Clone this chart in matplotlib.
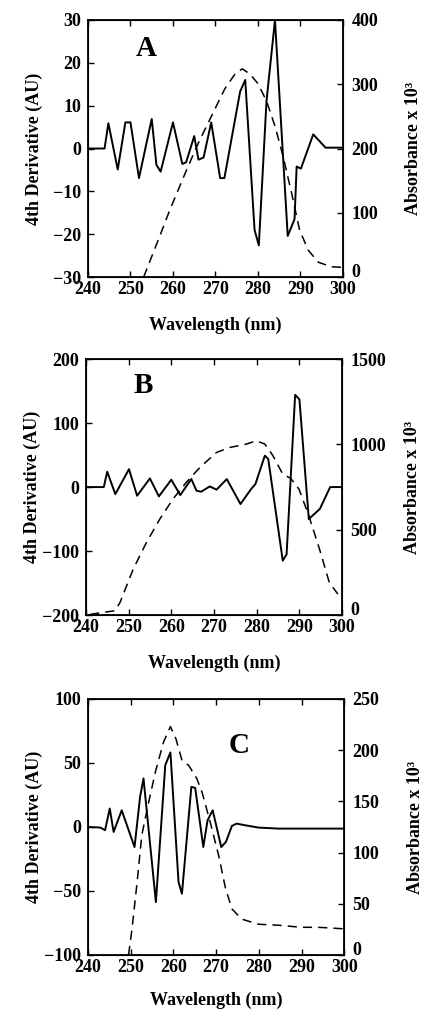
import matplotlib
matplotlib.use("Agg")
import matplotlib.pyplot as plt

plt.rcParams['font.family'] = ['Liberation Serif', 'DejaVu Serif']
plt.rcParams['font.weight'] = 'bold'
plt.rcParams['axes.unicode_minus'] = True

# panel A
a_wl = [240, 243.9, 244.8, 247, 248.8, 250, 252, 255, 256.1, 257.1, 260, 262.2, 263.1,
        265, 266, 267.2, 269, 271.1, 272.1, 275.8, 277, 279.2, 280.2, 282, 284, 287,
        288.6, 289.1, 290.1, 293, 295.9, 300]
a_d4 = [0, 0, 5.9, -4.9, 6.1, 6.1, -6.9, 6.9, -3.8, -5.4, 6.1, -3.6, -3.2,
        2.9, -2.6, -2.1, 6.1, -6.9, -6.9, 13.3, 16, -19, -22.6, 11, 30, -20.4,
        -16.5, -4.2, -4.7, 3.3, 0.2, 0.2]
a_abs_wl = [253.1, 256.2, 259.3, 262.9, 266, 269.1, 272.2, 274.6, 276.3, 278.1, 280,
            282, 284, 285.9, 287.9, 289.8, 291.8, 294.2, 297.3, 300]
a_abs = [0, 52, 105, 162, 209, 251, 293, 316, 324, 316, 301,
         274, 235, 188, 131, 73, 42, 23, 16, 15]

# panel B
b_wl = [240, 244.2, 245, 246.9, 250.1, 252, 255, 257.1, 260, 262.1, 264.7, 265.9, 267,
        269, 270.6, 273, 276.2, 278.7, 279.7, 281.9, 282.7, 286.1, 287, 289, 290,
        292.2, 294.8, 297.2, 300]
b_d4 = [0, 0, 24, -11, 28, -13.5, 13.5, -14.6, 11.5, -12.5, 12.5, -5.7, -7.3,
        1, -4, 12.5, -26.5, -3, 4.7, 49, 44, -115, -105, 144, 137,
        -50, -34, 0, 0]
b_abs_wl = [241, 244, 246.8, 248, 251.1, 254.2, 257.3, 260.4, 263.5, 266.7, 270.6,
            273.7, 277.6, 279.9, 281.9, 283.8, 286.1, 288, 289.9, 292.2, 294.7, 297, 299]
b_abs = [4, 16, 25, 74, 270, 426, 562, 680, 777, 865, 953,
         982, 1002, 1021, 1002, 934, 826, 800, 738, 582, 387, 191, 123]

# panel C
c_wl = [240, 242.9, 244, 245.1, 246, 247.9, 250.9, 252.2, 253, 255.9, 258.1, 259.3,
        261.2, 262, 264.2, 265.1, 267, 268, 269.2, 271.2, 272.3, 273.7, 274.8,
        276.8, 279.9, 284.6, 300]
c_d4 = [0, -0.5, -2.6, 14.4, -3.9, 13, -15.7, 23.5, 37.9, -58.7, 48.3, 58.2,
        -43, -52.2, 31.3, 30.5, -15.7, 5.2, 13, -15.7, -11.7, 0.8, 2.6,
        1.3, -0.5, -1.3, -1.3]
c_abs_wl = [249.5, 250.3, 251.5, 252.6, 254.2, 255.8, 257.7, 259.3, 260.6, 262, 263.6,
            265.5, 266.7, 268.6, 270.6, 272.2, 273.7, 276, 279.9, 284.6, 290, 293.9, 300]
c_abs = [0, 25, 71, 117, 149, 179, 208, 223, 211, 190, 185,
         172, 159, 130, 97, 65, 45, 35, 30, 29, 27, 27, 25.5]

panels = [
    ("A", a_wl, a_d4, a_abs_wl, a_abs, (-30, 30), [-30, -20, -10, 0, 10, 20, 30],
     (0, 400), [0, 100, 200, 300, 400], (0.23, 0.89)),
    ("B", b_wl, b_d4, b_abs_wl, b_abs, (-200, 200), [-200, -100, 0, 100, 200],
     (0, 1500), [0, 500, 1000, 1500], (0.223, 0.898)),
    ("C", c_wl, c_d4, c_abs_wl, c_abs, (-100, 100), [-100, -50, 0, 50, 100],
     (0, 250), [0, 50, 100, 150, 200, 250], (0.588, 0.82)),
]

boxes = [
    [0.207, 0.7257, 0.600, 0.2545],
    [0.202, 0.391, 0.603, 0.2535],
    [0.207, 0.0545, 0.603, 0.2535],
]
xlab_y = [-0.155, -0.155, -0.142]

fig = plt.figure(figsize=(4.25, 10.1), dpi=100)
fs = 13

for box, xl, (letter, wl, d4, awl, ab, ylim, yt, ylim2, yt2, lpos) in zip(boxes, xlab_y, panels):
    ax = fig.add_axes(box)
    ax.plot(wl, d4, color='black', lw=1.4)
    ax.set_xlim(240, 300)
    ax.set_ylim(*ylim)
    ax.set_xticks(range(240, 301, 10))
    ax.set_yticks(yt)
    ax.tick_params(direction='in', length=4, width=1, top=True, right=False,
                   labelsize=fs, pad=5)
    ax.tick_params(axis='x', pad=3)
    for s in ax.spines.values():
        s.set_linewidth(1.3)
    ax.set_ylabel("4th Derivative (AU)", fontsize=fs, fontweight='bold')
    ax.yaxis.set_label_coords(-0.176, 0.5)
    ax.set_xlabel("Wavelength (nm)", fontsize=fs, fontweight='bold')
    ax.xaxis.set_label_coords(0.5, xl)
    ax.text(lpos[0], lpos[1], letter, transform=ax.transAxes, fontsize=21,
            fontweight='bold', ha='center', va='center')

    ax2 = ax.twinx()
    ax2.plot(awl, ab, color='black', lw=1.1, dashes=(6, 4))
    ax2.set_ylim(*ylim2)
    # the zero of the right axis sits a bit higher so it clears the "300" below it
    ax2.set_yticks(yt2, [''] + [str(v) for v in yt2[1:]])
    ax2.annotate(str(yt2[0]), xy=(1, 0), xycoords='axes fraction',
                 xytext=(6, 5), textcoords='offset points',
                 fontsize=fs, fontweight='bold', ha='left', va='center_baseline')
    ax2.tick_params(direction='in', length=4, width=1, labelsize=fs, pad=6)
    ax2.set_ylabel("Absorbance x 10³", fontsize=fs, fontweight='bold')
    ax2.yaxis.set_label_coords(1.243, 0.5)

fig.savefig("out.png", dpi=100)
